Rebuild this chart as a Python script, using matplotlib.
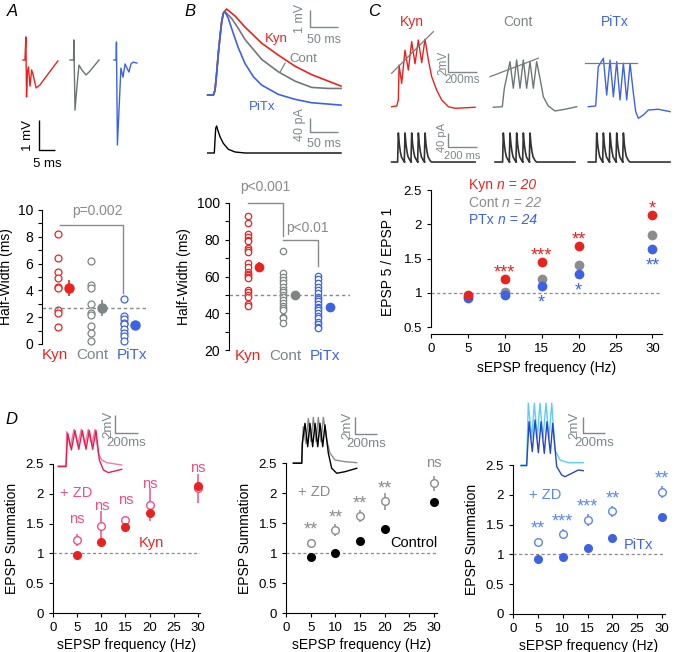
import matplotlib
matplotlib.use('Agg')
import matplotlib.pyplot as plt
import numpy as np

plt.rcParams['font.family'] = ['Liberation Sans', 'DejaVu Sans']
plt.rcParams['axes.linewidth'] = 0.8
plt.rcParams['xtick.major.width'] = 0.8
plt.rcParams['ytick.major.width'] = 0.8
plt.rcParams['ytick.minor.width'] = 0.8

# ---------------- data ----------------
groups = ['Kyn', 'Cont', 'PiTx']

# Panel A: spike half-width (ms)
hwA_kyn = [8.2, 6.4, 5.4, 4.9, 4.25, 4.2, 2.5, 2.3, 1.3]
hwA_cont = [6.2, 4.4, 4.15, 3.0, 2.3, 2.15, 1.35, 0.8, 0.2]
hwA_pitx = [3.35, 2.1, 1.85, 1.6, 1.5, 1.15, 0.85, 0.6, 0.25]
hwA_mean = [4.2, 2.7, 1.45]
hwA_sem = [0.6, 0.6, 0.25]
hwA_ref = 2.7

# Panel A traces (ms, mV)
trA_kyn_t = [2.5, 3.1, 3.4, 3.6, 3.9, 4.2, 4.7, 5.2, 5.6, 6.6, 7.8, 10.3, 13.4]
trA_kyn_v = [0, 0, 0.77, -1.23, -0.4, -0.23, -0.87, -0.33, -0.47, -0.93, -0.83, -0.47, -0.03]
trA_cont_t = [17.2, 18.3, 18.4, 18.75, 19.4, 20.0, 20.9, 22.2, 23.4, 26.25]
trA_cont_v = [0, 0, 0.67, -1.67, -0.83, -0.17, -0.33, -0.5, -0.37, 0]
trA_pitx_t = [30.9, 31.6, 31.7, 32.0, 32.5, 33.1, 33.75, 34.4, 35.0, 35.6, 36.25, 36.9, 38.1]
trA_pitx_v = [0, 0, 0.6, -2.83, -1.67, -0.27, -0.57, -0.13, -0.27, -0.4, -0.13, -0.07, -0.1]

# Panel B: EPSP half-width (ms)
hwB_kyn = [92.7, 89.1, 83.3, 81.5, 80, 79.5, 75.5, 74.2, 73.1, 67.3, 65.1, 62.7,
           61.5, 60.9, 60, 59.1, 52.4, 51.3, 50, 49.1, 45.1, 44]
hwB_cont = [74, 61.8, 60, 58.2, 56.4, 54.5, 52.7, 51.3, 50, 48.7, 47.3, 45.8,
            44, 42.7, 41.5, 38.2, 37.3, 34.9]
hwB_pitx = [60.5, 58.7, 56.4, 54.5, 52.7, 50.9, 49.1, 47.8, 46.4, 45.1, 43.6,
            42.7, 41.5, 40, 38.5, 37.3, 35.5, 34.2, 32.7, 31.8]
hwB_mean = [65.3, 50, 43.5]
hwB_sem = [2.5, 1.0, 1.0]
hwB_ref = 50

# Panel B traces
epsp_rise_t = [4.8, 14.9, 17.9, 20.8, 23.8, 26.8, 29.8, 32.7, 34.5]
epsp_rise_v = [0, 0, 0.29, 1.28, 2.45, 3.43, 4.31, 4.8, 4.9]
epspB_kyn_t = [38.7, 53.6, 71.4, 101.2, 130.9, 160.7, 190.5, 220.2, 242.9]
epspB_kyn_v = [5.06, 4.65, 4.0, 3.05, 2.35, 1.7, 1.2, 0.82, 0.53]
epspB_cont_t = [35.7, 47.6, 59.5, 71.4, 101.2, 130.9, 160.7, 190.5, 220.2, 242.9]
epspB_cont_v = [4.9, 4.51, 3.92, 3.27, 2.1, 1.37, 0.82, 0.45, 0.39, 0.39]
epspB_pitx_t = [35.7, 41.6, 50.5, 59.5, 71.4, 86.3, 101.2, 130.9, 160.7, 190.5, 242.9]
epspB_pitx_v = [4.9, 4.51, 3.63, 2.78, 1.86, 1.08, 0.59, 0.04, -0.25, -0.45, -0.59]
iB_t = [4.8, 16.6, 17.9, 19.1, 20.8, 22.7, 26.8, 32.7, 41.6, 53.6, 71.4, 242.9]
iB_pA = [0, 0, 37, 70.5, 77, 66, 46.6, 27.6, 10.6, 2.9, 0, 0]

# Panel C traces
trC_kyn_t = [46, 81, 92, 97, 115, 138, 161, 184, 207, 230, 253, 276, 299, 322, 356, 391, 437, 483, 621]
trC_kyn_v = [0.03, 0.11, 0.74, 4.42, 2.49, 5.98, 3.89, 6.88, 4.55, 7.05, 4.66, 7.13, 4.95, 3.19, 1.79, 0.74, 0.03, -0.14, -0.03]
trC_cont_t = [747, 809, 823, 862, 885, 908, 931, 954, 977, 1000, 1023, 1046, 1069, 1092, 1126, 1172, 1241, 1322]
trC_cont_v = [-0.03, 0.03, 1.97, 4.77, 1.97, 4.95, 1.97, 4.95, 1.97, 4.77, 1.97, 4.77, 3.02, 1.08, 0.11, -0.42, -0.24, 0.03]
trC_pitx_t = [1402, 1453, 1471, 1506, 1529, 1552, 1575, 1598, 1621, 1644, 1667, 1690, 1713, 1729, 1747, 1782, 1816, 1885, 1966]
trC_pitx_v = [0.03, 0.11, 4.24, 5.13, 1.26, 4.95, 1.08, 4.77, 0.74, 4.6, 0.74, 4.6, 1.44, -0.49, -1.19, -0.84, -0.32, -0.24, -0.49]
trendC_kyn_t = [46, 333]; trendC_kyn_v = [3.55, 7.93]
trendC_cont_t = [724, 1057]; trendC_cont_v = [3.19, 5.13]
trendC_pitx_t = [1379, 1736]; trendC_pitx_v = [4.6, 4.6]
# injected current pulses (pulse shape + peak times)
pulse_dt = [-5, 0, 7, 14, 21, 35, 45]
pulse_rel = [0, 1, 0.6, 0.35, 0.18, 0.05, 0]
pulse_amp = 83
pulse_peaks = [[92, 138, 184, 230, 276], [816, 862, 908, 954, 1000], [1460, 1506, 1552, 1598, 1644]]
pulse_span = [[46, 621], [759, 1310], [1402, 1966]]

# Panel C: EPSP5/EPSP1
freqs = [5, 10, 15, 20, 30]
ratio_kyn = [0.97, 1.2, 1.45, 1.68, 2.13]
ratio_kyn_err = [0.02, 0.03, 0.04, 0.06, 0.06]
ratio_cont = [0.94, 1.01, 1.2, 1.41, 1.85]
ratio_pitx = [0.92, 0.97, 1.1, 1.27, 1.64]
stars_kyn = ['', '***', '***', '**', '*']
stars_pitx = ['', '', '*', '*', '**']
legend_names = ['Kyn', 'Cont', 'PTx']
legend_n = ['n = 20', 'n = 22', 'n = 24']

# Panel D: EPSP summation
sum_kyn = [0.97, 1.19, 1.44, 1.67, 2.13]
sum_kyn_err = [0.03, 0.05, 0.03, 0.07, 0.06]
sum_kyn_zd = [1.23, 1.46, 1.56, 1.82, 2.09]
sum_kyn_zd_err = [0.1, 0.25, 0.05, 0.27, 0.24]
sig_kyn = ['ns', 'ns', 'ns', 'ns', 'ns']
sum_cont = [0.94, 1.0, 1.2, 1.4, 1.85]
sum_cont_err = [0.02, 0.02, 0.02, 0.02, 0.02]
sum_cont_zd = [1.17, 1.38, 1.61, 1.86, 2.16]
sum_cont_zd_err = [0.04, 0.1, 0.1, 0.14, 0.12]
sig_cont = ['**', '**', '**', '**', 'ns']
sum_pitx = [0.92, 0.96, 1.1, 1.27, 1.63]
sum_pitx_err = [0.02, 0.02, 0.02, 0.02, 0.02]
sum_pitx_zd = [1.21, 1.34, 1.58, 1.72, 2.05]
sum_pitx_zd_err = [0.06, 0.08, 0.1, 0.1, 0.1]
sig_pitx = ['**', '***', '***', '**', '**']

# Panel D inset traces
trD1_zd_t = [72, 139, 145, 177, 209, 241, 272, 304, 333, 363, 391, 420, 450, 493, 623]
trD1_zd_v = [0, 0, 3.81, 2.14, 4.07, 2.33, 4.07, 2.33, 4.07, 2.33, 4.07, 1.41, 0.67, 0.37, 0.11]
trD1_t = [72, 139, 154, 186, 217, 250, 281, 313, 342, 371, 400, 429, 464, 507, 565, 623]
trD1_v = [-0.07, -0.07, 3.63, 1.78, 3.93, 1.85, 3.93, 1.85, 3.93, 1.85, 3.93, 0.67, -0.44, -0.74, -0.56, -0.37]
trD2_zd_t = [77, 155, 169, 194, 216, 241, 262, 287, 308, 333, 355, 386, 417, 463, 556, 664]
trD2_zd_v = [0, 0, 4.32, 2.32, 5.33, 2.52, 5.45, 2.52, 5.45, 2.52, 5.45, 2.72, 1.13, 0.32, 0.12, 0]
trD2_t = [77, 155, 160, 185, 210, 231, 256, 278, 303, 324, 349, 370, 401, 432, 479, 556, 664]
trD2_v = [-0.07, -0.07, 2.32, 4.73, 1.92, 4.73, 1.92, 4.73, 1.92, 4.73, 1.92, 4.53, 1.13, -0.67, -1.27, -1.08, -0.67]
trD3_zd_t = [56, 108, 123, 155, 179, 206, 231, 259, 287, 315, 340, 370, 417, 494, 632]
trD3_zd_v = [0, 0, 7.41, 3.2, 7.41, 3.2, 7.41, 3.2, 7.41, 3.2, 7.41, 1.8, 0.6, 0.28, 0.28]
trD3_t = [56, 108, 130, 160, 185, 216, 241, 271, 296, 327, 349, 386, 432, 463, 525, 586, 632]
trD3_v = [-0.08, -0.08, 5.2, 1.6, 5.4, 1.48, 5.2, 1.4, 5.2, 1.4, 5.0, -0.2, -1.2, -1.4, -1.0, -0.6, -0.68]

# ---------------- styles ----------------
RED = '#e8231f'
GRAY = '#7f8485'
BLUE = '#3d63e4'
PINK = '#ec4f86'
LBLUE = '#5b86ea'
CYAN = '#5fcdf2'
DBLUE = '#2747c8'
SCALE = '#80878a'
STAR_FS = 13

W, H = 675, 652
fig = plt.figure(figsize=(W / 100, H / 100), dpi=100)
renderer = fig.canvas.get_renderer()


def add_ax(l, t, r, b):
    return fig.add_axes([l / W, 1 - b / H, (r - l) / W, (b - t) / H])


def trace_ax(l, t, r, b, xlim, ylim):
    ax = add_ax(l, t, r, b)
    ax.set_xlim(*xlim)
    ax.set_ylim(*ylim)
    ax.axis('off')
    return ax


def scalebar(ax, x0, y0, dx, dy, ylab, xlab, ylab_dx, xlab_dy, color=SCALE, fs=8.5,
             ylab_shift=0.0):
    ax.plot([x0, x0, x0 + dx], [y0 + dy, y0, y0], color=color, lw=1.0, clip_on=False,
            solid_capstyle='butt')
    ax.text(x0 - ylab_dx, y0 + dy / 2 + ylab_shift, ylab, rotation=90, ha='center',
            va='center', color=color, fontsize=fs, clip_on=False)
    ax.text(x0 + dx / 2, y0 - xlab_dy, xlab, ha='center', va='center', color=color,
            fontsize=fs, clip_on=False)


# panel letters
for lab, x, y in [('A', 12, 12), ('B', 190, 12), ('C', 374, 12), ('D', 11, 420)]:
    fig.text(x / W, 1 - y / H, lab, fontsize=12, style='italic', ha='center', va='center')

# ---------------- Panel A traces ----------------
axt = trace_ax(15, 30, 145, 160, (0, 40.625), (-3.33, 1))
axt.plot(trA_kyn_t, trA_kyn_v, color=RED, lw=1.0)
axt.plot(trA_cont_t, trA_cont_v, color='#6d7373', lw=1.0)
axt.plot(trA_pitx_t, trA_pitx_v, color=BLUE, lw=1.0)
scalebar(axt, 7.5, -3.0, 5, 1, '1 mV', '5 ms', 3.3, 0.45, color='black', fs=9.5)


# ---------------- half-width scatter panels ----------------
def halfwidth_panel(ax, vals, means, sems, ref, ms_open, ms_mean, lab_dx, lab_y):
    cols = [RED, GRAY, BLUE]
    for i, (v, m, s, c) in enumerate(zip(vals, means, sems, cols)):
        ax.plot([i] * len(v), v, 'o', mfc='white', mec=c, ms=ms_open, mew=0.9, clip_on=False)
        ax.errorbar(i + 0.33, m, yerr=s, fmt='o', color=c, ms=ms_mean, elinewidth=1.2,
                    capsize=0, clip_on=False)
        ax.text(i + lab_dx[i], lab_y, groups[i], color=c, fontsize=11, ha='center',
                va='center', transform=ax.get_xaxis_transform())
    ax.axhline(ref, xmin=0, xmax=1, color='#8a8a8a', lw=1.0, ls=(0, (2.5, 2)))
    ax.set_xticks([])
    ax.spines['bottom'].set_visible(False)
    ax.spines['top'].set_visible(False)
    ax.spines['right'].set_visible(False)
    ax.tick_params(axis='y', which='both', direction='out', length=3, labelsize=10)
    ax.patch.set_alpha(0)


axA = add_ax(42, 210, 147, 344)
axA.set_xlim(-0.485, 2.7)
axA.set_ylim(0, 10)
halfwidth_panel(axA, [hwA_kyn, hwA_cont, hwA_pitx], hwA_mean, hwA_sem, hwA_ref, 5.0, 6.5,
                [-0.09, 0.03, 0.24], -0.085)
axA.set_yticks([0, 2, 4, 6, 8, 10])
axA.set_yticks([1, 3, 5, 7, 9], minor=True)
axA.set_ylabel('Half-Width (ms)', fontsize=10, labelpad=3)
axA.plot([0.06, 1.97, 1.97], [8.9, 8.9, 3.8], color='#8a8a8a', lw=1.0, clip_on=False)
axA.text(1.2, 9.9, 'p=0.002', color='#8a8a8a', fontsize=10, ha='center', va='center')

# ---------------- Panel B traces ----------------
axb = trace_ax(205, 0, 345, 108, (0, 250), (-0.76, 5.59))
axb.plot(epsp_rise_t + epspB_kyn_t, epsp_rise_v + epspB_kyn_v, color=RED, lw=1.2)
axb.plot(epsp_rise_t + epspB_cont_t, epsp_rise_v + epspB_cont_v, color='#70777a', lw=1.2)
axb.plot(epsp_rise_t + epspB_pitx_t, epsp_rise_v + epspB_pitx_v, color=BLUE, lw=1.2)
axb.text(128, 3.3, 'Kyn', color=RED, fontsize=9.5, ha='center', va='center')
axb.text(176, 2.1, 'Cont', color=GRAY, fontsize=9.5, ha='center', va='center')
axb.plot([134, 143], [1.35, 1.88], color=GRAY, lw=0.9)
axb.text(102, -0.71, 'PiTx', color=BLUE, fontsize=9.5, ha='center', va='center')
scalebar(axb, 187.5, 4.0, 50, 1, '1 mV', '50 ms', 17, 0.78, fs=9)

axbi = trace_ax(205, 112, 345, 160, (0, 250), (-20, 117))
axbi.plot(iB_t, iB_pA, color='black', lw=1.0)
scalebar(axbi, 187.5, 60, 50, 40, '40 pA', '50 ms', 17, 34, fs=9)

axB = add_ax(229, 203, 350, 350)
axB.set_xlim(-0.54, 2.914)
axB.set_ylim(20, 100)
halfwidth_panel(axB, [hwB_kyn, hwB_cont, hwB_pitx], hwB_mean, hwB_sem, hwB_ref, 4.6, 6.0,
                [0.0, 0.06, 0.2], -0.04)
axB.set_yticks([20, 40, 60, 80, 100])
axB.set_yticks([30, 50, 70, 90], minor=True)
axB.set_ylabel('Half-Width (ms)', fontsize=10, labelpad=4)
axB.plot([0.0, 1.0, 1.0], [100, 100, 81.8], color='#8a8a8a', lw=1.0, clip_on=False)
axB.plot([1.0, 2.0, 2.0], [80, 80, 65.8], color='#8a8a8a', lw=1.0, clip_on=False)
axB.text(0.5, 108.5, 'p<0.001', color='#8a8a8a', fontsize=10, ha='center', va='center')
axB.text(1.7, 86.5, 'p<0.01', color='#8a8a8a', fontsize=10, ha='center', va='center')

# ---------------- Panel C traces ----------------
for lab, x, c in [('Kyn', 412, RED), ('Cont', 518, GRAY), ('PiTx', 615, BLUE)]:
    fig.text(x / W, 1 - 22 / H, lab, color=c, fontsize=10, ha='center', va='center')

axc = trace_ax(385, 25, 675, 120, (0, 2000), (-1.37, 8.63))
axc.plot(trC_kyn_t, trC_kyn_v, color=RED, lw=1.0)
axc.plot(trC_cont_t, trC_cont_v, color='#6f7676', lw=1.0)
axc.plot(trC_pitx_t, trC_pitx_v, color=BLUE, lw=1.0)
axc.plot(trendC_kyn_t, trendC_kyn_v, color='#7a7a7a', lw=0.9)
axc.plot(trendC_cont_t, trendC_cont_v, color='#7a7a7a', lw=0.9)
axc.plot(trendC_pitx_t, trendC_pitx_v, color='#7a7a7a', lw=0.9)
scalebar(axc, 434.5, 3.68, 200, 2, '2mV', '200ms', 34, 0.85, fs=8.5)

axci = trace_ax(385, 125, 675, 168, (0, 2000), (-17, 105.7))
for peaks, span in zip(pulse_peaks, pulse_span):
    tt = [span[0]]
    ii = [0]
    for p in peaks:
        for dt, r in zip(pulse_dt, pulse_rel):
            tt.append(p + dt)
            ii.append(pulse_amp * r)
    tt.append(span[1])
    ii.append(0)
    axci.plot(tt, ii, color='#333333', lw=1.2)
scalebar(axci, 434.5, 43, 200, 40, '40 pA', '200 ms', 38, 26, fs=8, ylab_shift=8)

# ---------------- Panel C scatter ----------------
axC = add_ax(431, 190, 662, 334)
axC.set_xlim(0, 31.3)
axC.set_ylim(0.398, 2.5)
axC.plot(freqs, ratio_cont, 'o', color='#8c8c8c', ms=6, clip_on=False, zorder=3)
axC.plot(freqs, ratio_pitx, 'o', color=BLUE, ms=6, clip_on=False, zorder=3)
axC.errorbar(freqs, ratio_kyn, yerr=ratio_kyn_err, fmt='o', color=RED, ms=6,
             elinewidth=1.2, capsize=0, clip_on=False, zorder=4)
axC.axhline(1, color='#8a8a8a', lw=0.9, ls=(0, (2.5, 2)), zorder=1)
for f, r, s in zip(freqs, ratio_kyn, stars_kyn):
    if s:
        axC.text(f, r + 0.09, s, color=RED, fontsize=STAR_FS, ha='center', va='center')
for f, r, s in zip(freqs, ratio_pitx, stars_pitx):
    if s:
        axC.text(f, r - 0.25, s, color=BLUE, fontsize=STAR_FS, ha='center', va='center')
axC.spines['top'].set_visible(False)
axC.spines['right'].set_visible(False)
axC.spines['left'].set_bounds(0.5, 2.5)
axC.set_xticks([0, 5, 10, 15, 20, 25, 30])
axC.set_yticks([0.5, 1, 1.5, 2, 2.5])
axC.set_yticklabels(['0.5', '1', '1.5', '2', '2.5'])
axC.tick_params(direction='out', length=3, labelsize=9.5)
axC.set_xlabel('sEPSP frequency (Hz)', fontsize=10, labelpad=4)
axC.set_ylabel('EPSP 5 / EPSP 1', fontsize=10, labelpad=6)
for name, nlab, y, c in zip(legend_names, legend_n, [185, 203, 220], [RED, '#8c8c8c', BLUE]):
    t1 = fig.text(469 / W, 1 - y / H, name + ' ', color=c, fontsize=10, va='center')
    bb = t1.get_window_extent(renderer=renderer)
    fig.text(bb.x1 / fig.bbox.width, 1 - y / H, nlab, color=c, fontsize=10,
             style='italic', va='center')


# ---------------- Panel D ----------------
def sum_panel(box, base, base_err, zd, zd_err, sig, col_base, col_zd, col_txt,
              base_label, base_lab_xy, zd_lab_xy):
    ax = add_ax(*box)
    ax.set_xlim(0, 30.5)
    ax.set_ylim(0, 2.5)
    ax.axhline(1, color='#8a8a8a', lw=0.9, ls=(0, (2.5, 2)), zorder=1)
    ax.errorbar(freqs, zd, yerr=zd_err, fmt='o', mfc='white', mec=col_zd, ecolor=col_zd,
                ms=5.5, mew=1.0, elinewidth=1.1, capsize=0, clip_on=False, zorder=3)
    ax.errorbar(freqs, base, yerr=base_err, fmt='o', color=col_base, ms=5.5,
                elinewidth=1.1, capsize=0, clip_on=False, zorder=4)
    for f, z, s in zip(freqs, zd, sig):
        if s == 'ns':
            ax.text(f, z + 0.34, s, color=col_txt, fontsize=10.5, ha='center', va='center')
        else:
            ax.text(f, z + 0.21, s, color=col_txt, fontsize=STAR_FS, ha='center', va='center')
    ax.text(zd_lab_xy[0], zd_lab_xy[1], '+ ZD', color=col_txt, fontsize=10.5, ha='center',
            va='center')
    ax.text(base_lab_xy[0], base_lab_xy[1], base_label, color=col_base, fontsize=10.5,
            ha='center', va='center')
    ax.spines['top'].set_visible(False)
    ax.spines['right'].set_visible(False)
    ax.set_xticks([0, 5, 10, 15, 20, 25, 30])
    ax.set_yticks([0, 0.5, 1, 1.5, 2, 2.5])
    ax.set_yticklabels(['0', '0.5', '1', '1.5', '2', '2.5'])
    ax.tick_params(direction='out', length=3, labelsize=9.5)
    ax.set_xlabel('sEPSP frequency (Hz)', fontsize=10, labelpad=3)
    ax.set_ylabel('EPSP Summation', fontsize=10, labelpad=5)
    ax.patch.set_alpha(0)
    return ax


sum_panel((53, 464, 200.4, 613), sum_kyn, sum_kyn_err, sum_kyn_zd, sum_kyn_zd_err, sig_kyn,
          RED, PINK, PINK, 'Kyn', (20.3, 1.18), (4.9, 2.02))
sum_panel((286, 463, 436.5, 613), sum_cont, sum_cont_err, sum_cont_zd, sum_cont_zd_err, sig_cont,
          'black', '#8a8a8a', '#8a8a8a', 'Control', (26, 1.16), (5.7, 2.02))
sum_panel((513, 465, 664.5, 614), sum_pitx, sum_pitx_err, sum_pitx_zd, sum_pitx_zd_err, sig_pitx,
          BLUE, LBLUE, LBLUE, 'PiTx', (25.3, 1.15), (6.4, 2.0))

# D insets
axd1 = trace_ax(50, 405, 125, 480, (0, 652), (-1.56, 6.78))
axd1.plot(trD1_zd_t, trD1_zd_v, color='#f27aa3', lw=1.0)
axd1.plot(trD1_t, trD1_v, color='#e2204e', lw=1.0)
scalebar(axd1, 565, 3.67, 200, 2, '2mV', '200ms', 60, 1.15, fs=9.5)

axd2 = trace_ax(285, 405, 360, 480, (0, 694), (-2.08, 6.93))
axd2.plot(trD2_zd_t, trD2_zd_v, color='#8c8c8c', lw=1.0)
axd2.plot(trD2_t, trD2_v, color='black', lw=1.0)
scalebar(axd2, 648, 3.5, 200, 2, '2mV', '200ms', 70, 1.2, fs=9.5)

axd3 = trace_ax(515, 398, 590, 480, (0, 694), (-1.8, 8.04))
axd3.plot(trD3_zd_t, trD3_zd_v, color=CYAN, lw=1.0)
axd3.plot(trD3_t, trD3_v, color=DBLUE, lw=1.0)
scalebar(axd3, 630, 3.8, 200, 2, '2mV', '200ms', 85, 1.2, fs=9.5)

fig.savefig('out.png', dpi=100)
